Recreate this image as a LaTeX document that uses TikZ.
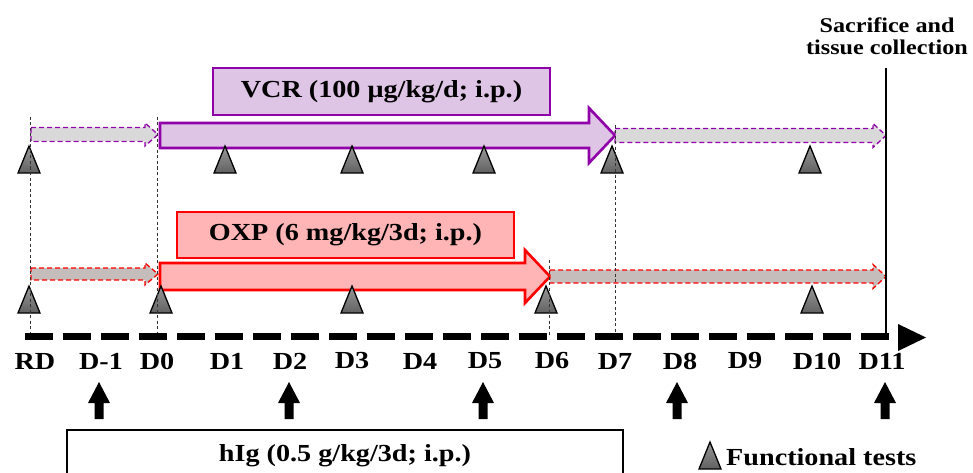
\documentclass[tikz,border=0pt]{standalone}
\usepackage{fontspec}
\setmainfont{Liberation Serif}[FakeStretch=1.15]
\definecolor{vcrline}{HTML}{9000A8}
\definecolor{vcrfill}{HTML}{DEC4E5}
\definecolor{oxpline}{HTML}{FF0000}
\definecolor{oxpfill}{HTML}{FFB5B5}
\definecolor{grayA}{HTML}{D9D9D9}
\definecolor{grayB}{HTML}{C4BDBB}
\begin{document}
\begin{tikzpicture}[x=1pt,y=-1pt,
  lab/.style={font=\fontsize{24.5}{27}\selectfont\bfseries, inner sep=0pt},
  small/.style={font=\fontsize{21}{22}\selectfont\bfseries, inner sep=0pt, align=center},
  functri/.style={draw=black, line width=1.3pt, top color=black!40, bottom color=black!62, line join=miter},
  guide/.style={draw=black!80, line width=0.8pt, dash pattern=on 3pt off 2.5pt},
  vcrmain/.style={draw=vcrline, fill=vcrfill, line width=2.6pt, line join=miter},
  oxpmain/.style={draw=oxpline, fill=oxpfill, line width=2.6pt, line join=miter},
  vcrdash/.style={draw=vcrline, fill=grayA, line width=1.3pt, dash pattern=on 5pt off 3pt},
  oxpdash/.style={draw=oxpline, fill=grayB, line width=1.3pt, dash pattern=on 5pt off 3pt},
  ftri/.pic={\path[functri] (-11,27) -- (0,0) -- (11,27) -- cycle;},
  uparrow/.pic={\fill (-11,21) -- (0,0) -- (11,21) -- (4.5,21) -- (4.5,37) -- (-4.5,37) -- (-4.5,21) -- cycle;}
]
\path[use as bounding box] (0,0) rectangle (973,473);
\clip (0,0) rectangle (973,473);

% VCR row
\node[draw=vcrline, fill=vcrfill, line width=2pt, minimum width=337pt, minimum height=47pt, lab] (vcr) at (381.5,91.5) {VCR (100 μg/kg/d; i.p.)};
\path[vcrdash] (31,127.5) -- (145,127.5) -- (145,123) -- (158,134.5) -- (145,146) -- (145,141.5) -- (31,141.5) -- cycle;
\path[vcrmain] (160,123) -- (589,123) -- (589,108) -- (615,135.5) -- (589,163) -- (589,148) -- (160,148) -- cycle;
\path[vcrdash] (615,128.5) -- (873,128.5) -- (873,123.5) -- (886,135.5) -- (873,147.5) -- (873,142.5) -- (615,142.5) -- cycle;

% OXP row
\node[draw=oxpline, fill=oxpfill, line width=2pt, minimum width=337pt, minimum height=46pt, lab] (oxp) at (345.5,235) {OXP (6 mg/kg/3d; i.p.)};
\path[oxpdash] (31,268) -- (145,268) -- (145,263) -- (158,274) -- (145,285) -- (145,280) -- (31,280) -- cycle;
\path[oxpmain] (160,263) -- (525,263) -- (525,250) -- (550,276.5) -- (525,303) -- (525,290) -- (160,290) -- cycle;
\path[oxpdash] (550,270) -- (873,270) -- (873,264.5) -- (886,276.5) -- (873,288.5) -- (873,283) -- (550,283) -- cycle;

% functional test triangles
\foreach \x in {29,225,352,484,612,810} \pic at (\x,146) {ftri};
\foreach \x in {29,161,352,546,812} \pic at (\x,286) {ftri};

% guide lines
\draw[guide] (30,117) -- (30,336);
\draw[guide] (157,117) -- (157,336);
\draw[guide] (549,260) -- (549,336);
\draw[guide] (615,125) -- (615,336);

% timeline
\draw[line width=7pt, dash pattern=on 28pt off 10pt] (25,336) -- (889,336);
\fill (898,324) -- (926,337.5) -- (898,351) -- cycle;

% sacrifice
\draw[line width=2pt] (886,68) -- (886,336);
\node[small] (sac) at (887,36) {Sacrifice and\\tissue collection};

% day labels
\foreach \n/\x/\t in {rd/35/RD, dm1/101/D-1, d0/157/D0, d1/227/D1, d2/290/D2, d3/352/D3, d4/420/D4, d5/485/D5, d6/552/D6, d7/615/D7, d8/680/D8, d9/745/D9, d10/817/D10, d11/882/D11}
  \node[lab] (\n) at (\x,361) {\t};

% hIg injections
\foreach \x in {99,289,483,677,885} \pic at (\x,382) {uparrow};
\draw[line width=2pt] (67,480) -- (67,430) -- (623,430) -- (623,480);
\node[lab] (hig) at (345,456) {hIg (0.5 g/kg/3d; i.p.)};

% legend
\pic at (710,442) {ftri};
\node[lab, anchor=west] (leg) at (726,457) {Functional tests};
\end{tikzpicture}
\end{document}
